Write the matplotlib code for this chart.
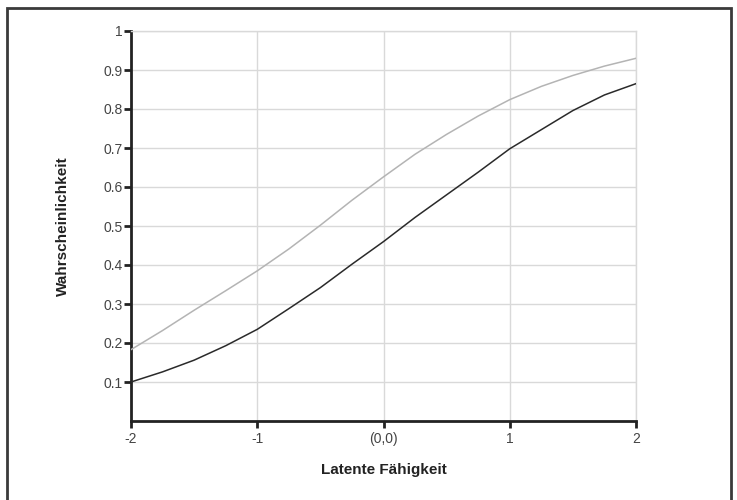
import matplotlib
matplotlib.use("Agg")
import matplotlib.pyplot as plt
from matplotlib.patches import Rectangle

theta = [-2.0, -1.75, -1.5, -1.25, -1.0, -0.75, -0.5, -0.25, 0.0, 0.25, 0.5, 0.75, 1.0, 1.25, 1.5, 1.75, 2.0]
p_gray = [0.183, 0.232, 0.284, 0.334, 0.385, 0.441, 0.502, 0.566, 0.626, 0.684, 0.735, 0.782, 0.824, 0.858, 0.886, 0.910, 0.930]
p_black = [0.100, 0.126, 0.156, 0.193, 0.235, 0.288, 0.342, 0.402, 0.460, 0.522, 0.580, 0.638, 0.698, 0.747, 0.796, 0.836, 0.865]
xticks = [-2, -1, 0, 1, 2]
xticklabels = ["-2", "-1", "(0,0)", "1", "2"]
yticks = [0.1, 0.2, 0.3, 0.4, 0.5, 0.6, 0.7, 0.8, 0.9, 1.0]
yticklabels = ["0.1", "0.2", "0.3", "0.4", "0.5", "0.6", "0.7", "0.8", "0.9", "1"]

plt.rcParams['font.family'] = ['Liberation Sans', 'DejaVu Sans']
fig = plt.figure(figsize=(7.37, 5.0), dpi=100)
ax = fig.add_axes([131/737, 79/500, 505/737, 390/500])

# outer frame
fig.patches.append(Rectangle((7/737, -0.01), 724/737, (492+5)/500, transform=fig.transFigure,
                             fill=False, edgecolor='#3a3a3a', linewidth=2.0, zorder=0))

ax.plot(theta, p_gray, color='#b4b4b4', linewidth=1.1, zorder=3)
ax.plot(theta, p_black, color='#2a2a2a', linewidth=1.1, zorder=3)

ax.set_xlim(-2, 2)
ax.set_ylim(0, 1)
ax.set_xticks(xticks)
ax.set_xticklabels(xticklabels)
ax.set_yticks(yticks)
ax.set_yticklabels(yticklabels)
ax.grid(True, color='#d9d9d9', linewidth=1.0, zorder=0)
ax.set_axisbelow(True)

for s in ['top', 'right']:
    ax.spines[s].set_color('#d9d9d9')
    ax.spines[s].set_linewidth(1.0)
for s in ['left', 'bottom']:
    ax.spines[s].set_color('#222222')
    ax.spines[s].set_linewidth(2.0)

ax.tick_params(axis='both', direction='out', length=5, width=2, color='#222222',
               labelsize=10, labelcolor='#444444', pad=1)
ax.tick_params(axis='x', pad=3)

ax.set_xlabel('Latente Fähigkeit', fontsize=11, fontweight='bold', color='#222222', labelpad=12)
ax.set_ylabel('Wahrscheinlichkeit', fontsize=11, fontweight='bold', color='#222222', labelpad=24)

fig.savefig('out.png', dpi=100)
